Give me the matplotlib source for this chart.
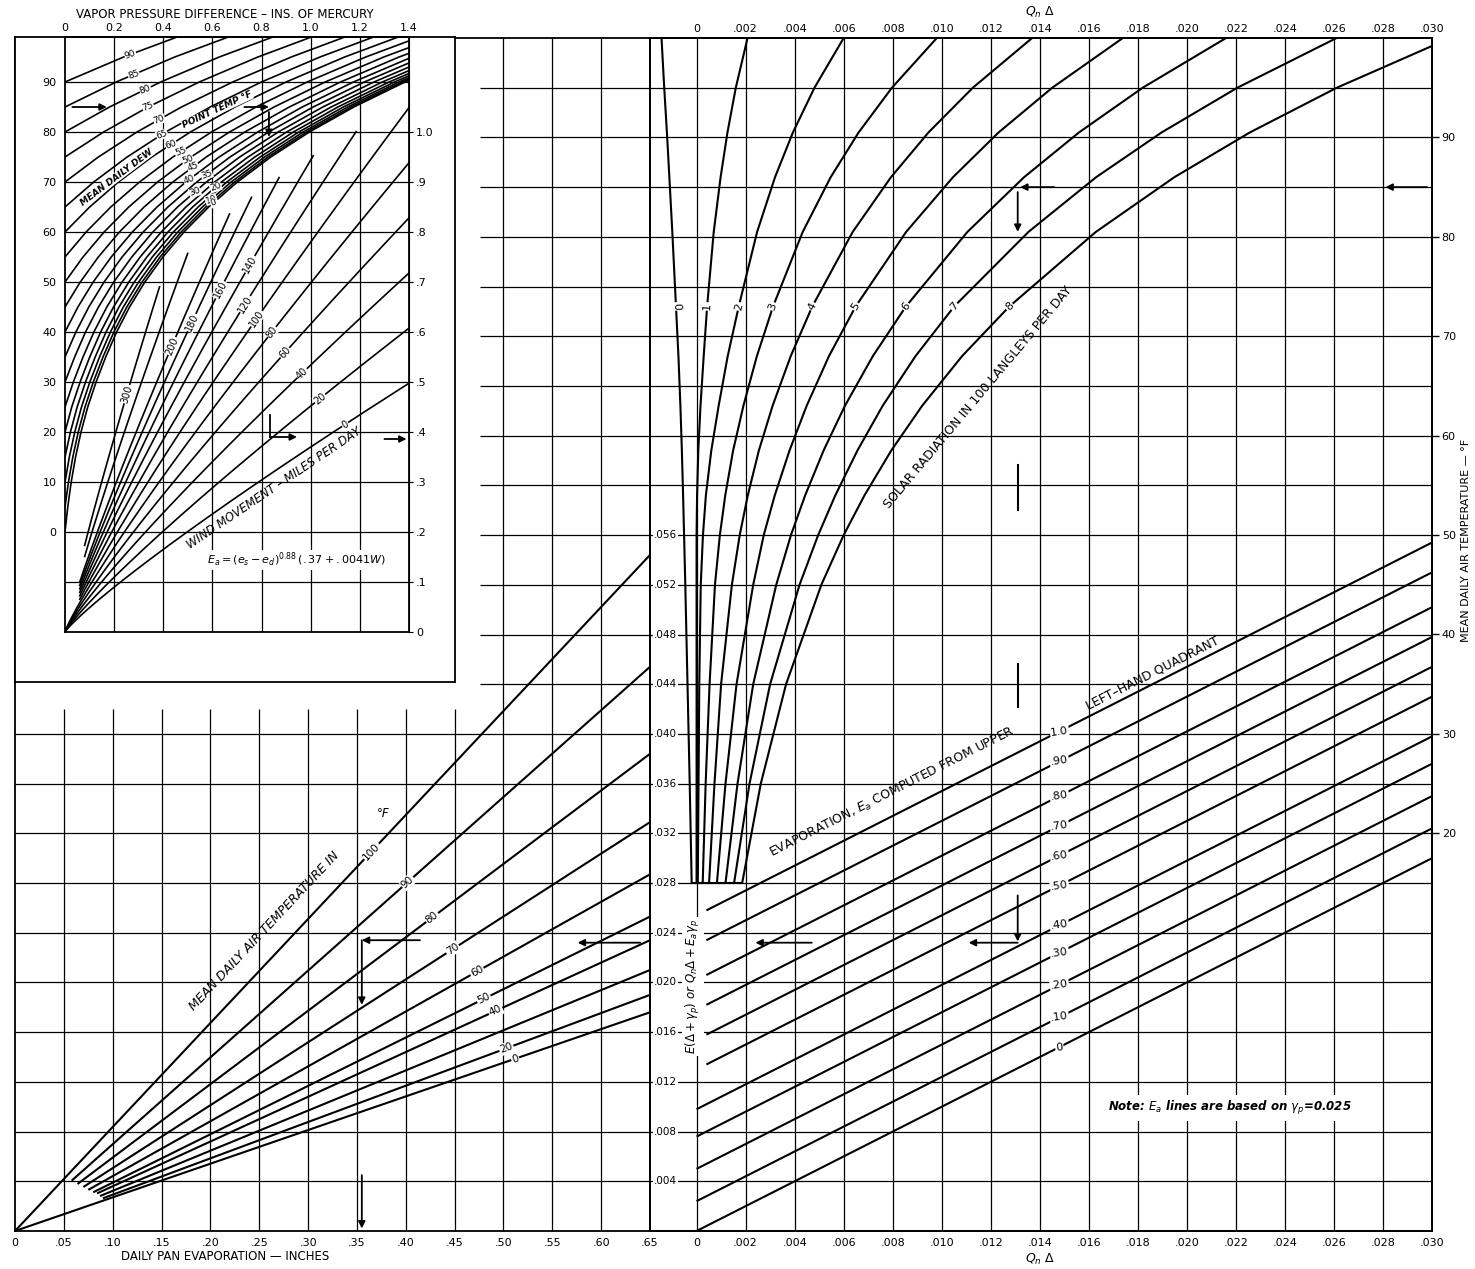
# Evaporation nomograph: pan evaporation, Ea and Qn-delta quadrants
import numpy as np
import matplotlib.pyplot as plt

plt.rcParams['font.family'] = ['DejaVu Sans']
plt.rcParams['font.size'] = 8
plt.rcParams['mathtext.fontset'] = 'dejavusans'

# ---------------- data ----------------
# saturation vapour pressure table (in. Hg) behind the dew point curves
es_temp = np.arange(-20, 101, 5)
es_inhg = np.array([0.0126, 0.0167, 0.0222, 0.0289, 0.0376, 0.0488, 0.0629, 0.0806,
                    0.1027, 0.1301, 0.1641, 0.2034, 0.2477, 0.3003, 0.3626, 0.4359,
                    0.5218, 0.6222, 0.7392, 0.8750, 1.0321, 1.2133, 1.4215, 1.6600, 1.9325])

dew_points = [90, 85, 80, 75, 70, 65, 60, 55, 50, 45, 40, 35, 30, 25, 20, 15, 10, 5, 0]
dew_label_temp = {90: 95.5, 85: 91.5, 80: 88.5, 75: 85, 70: 82.5, 65: 79.5, 60: 77.5,
                  55: 76, 50: 74.5, 45: 73, 40: 70.5, 35: 71.5, 30: 68, 20: 69,
                  10: 66.5, 0: 65.8}

# wind movement lines, Ea = (es-ed)^0.88 (.37 + .0041 W)
wind_speeds = [0, 20, 40, 60, 80, 100, 120, 140, 160, 180, 200, 250, 300]
wind_start = [0, 0, 0, 0, 0, 0.06, 0.06, 0.06, 0.06, 0.06, 0.06, 0.08, 0.08]
wind_label_x = {0: 1.14, 20: 1.038, 40: 0.965, 60: 0.895, 80: 0.842, 100: 0.78,
                120: 0.733, 140: 0.753, 160: 0.631, 180: 0.516, 200: 0.435, 300: 0.252}

# lower-left: mean daily air temperature lines, E(D+gp) at pan evaporation .65
pan_temps = [100, 90, 80, 70, 60, 50, 40, 30, 20, 0]
pan_end_e = [0.0544, 0.0454, 0.0384, 0.0329, 0.0287, 0.0253, 0.0234, 0.0210, 0.0190, 0.0176]
pan_start = [0, 0.058, 0.064, 0.070, 0.075, 0.080, 0.084, 0.087, 0.090, 0]
pan_label_x = [0.365, 0.402, 0.427, 0.448, 0.473, 0.480, 0.492, None, 0.503, 0.512]

# lower-right: Ea lines, E(D+gp) at QnD = 0
ea_values = ['0', '.10', '.20', '.30', '.40', '.50', '.60', '.70', '.80', '.90', '1.0']
ea_intercept = [0, 0.0024, 0.0050, 0.0076, 0.0098, 0.0130, 0.0154, 0.0178, 0.0202, 0.0230, 0.0254]
ea_start = [0, 0, 0, 0, 0, 0.0004, 0.0004, 0.0004, 0.0004, 0.0004, 0.0004]

# upper-right: solar radiation curves, QnD (thousandths) at each mean air temperature
solar_temp = [15, 25, 35, 45, 50, 54, 58.5, 63, 68, 73, 80.5, 86, 90.5, 95, 100]
solar_q = {
    0: [-.20, -.28, -.37, -.46, -.51, -.55, -.60, -.66, -.74, -.84, -.99, -1.11, -1.21, -1.32, -1.43],
    1: [0, 0, 0, 0, 0, .02, .07, .16, .29, .43, .70, .98, 1.26, 1.60, 2.08],
    2: [.05, .08, .11, .17, .26, .38, .60, .90, 1.27, 1.72, 2.47, 3.20, 3.93, 4.81, 6.00],
    3: [.25, .37, .53, .75, .95, 1.17, 1.49, 1.91, 2.46, 3.12, 4.33, 5.47, 6.61, 7.97, 9.80],
    4: [.51, .73, 1.00, 1.44, 1.76, 2.09, 2.54, 3.10, 3.84, 4.72, 6.37, 7.93, 9.46, 11.27, 13.69],
    5: [.83, 1.18, 1.63, 2.31, 2.74, 3.19, 3.79, 4.49, 5.40, 6.49, 8.55, 10.46, 12.32, 14.51, 17.39],
    6: [1.18, 1.67, 2.31, 3.25, 3.85, 4.43, 5.18, 6.05, 7.19, 8.54, 11.05, 13.36, 15.60, 18.20, 21.60],
    7: [1.53, 2.16, 3.00, 4.20, 4.96, 5.66, 6.56, 7.59, 8.93, 10.51, 13.54, 16.30, 18.97, 22.06, 26.11],
    8: [1.86, 2.62, 3.65, 5.09, 6.00, 6.85, 7.94, 9.20, 10.83, 12.76, 16.29, 19.49, 22.57, 26.12, 30.74],
}

pan_ticks = np.round(np.arange(0, 0.651, 0.05), 2)
q_ticks = np.round(np.arange(0, 0.0301, 0.002), 3)
e_ticks = np.round(np.arange(0.004, 0.0561, 0.004), 3)
vp_ticks = np.round(np.arange(0, 1.41, 0.2), 1)

# ---------------- layout ----------------
W_PX, H_PX = 1475, 1269
fig = plt.figure(figsize=(W_PX / 100, H_PX / 100), dpi=100)


def rect(x0, y0, x1, y1):
    return [x0 / W_PX, 1 - y1 / H_PX, (x1 - x0) / W_PX, (y1 - y0) / H_PX]


def angle(ax, x0, y0, x1, y1):
    (a, b), (c, d) = ax.transData.transform([(x0, y0), (x1, y1)])
    ang = np.degrees(np.arctan2(d - b, c - a))
    if ang > 90:
        ang -= 180
    if ang < -90:
        ang += 180
    return ang


GRID = dict(color='black', lw=0.9, zorder=1)
CURVE = dict(color='black', lw=1.5, zorder=3, solid_capstyle='butt')
WHITE = dict(fc='white', ec='none', pad=0.6)
ARROW = dict(arrowstyle='-|>', color='black', lw=1.3, mutation_scale=10, shrinkA=0, shrinkB=0)

ax_p = fig.add_axes(rect(15, 38, 650, 1231))
ax_p.set_xlim(0, 0.65)
ax_p.set_ylim(0, 0.096)
ax_r = fig.add_axes(rect(650, 38, 1432, 1231))
ax_r.set_xlim(-0.0019, 0.030)
ax_r.set_ylim(0, 0.096)
ax_t = ax_r.twinx()
ax_t.set_ylim(-20, 100)
ax_box = fig.add_axes(rect(15, 37, 455, 682), zorder=4)
ax_i = fig.add_axes(rect(65, 37, 409, 632), zorder=5)
ax_i.set_xlim(0, 1.4)
ax_i.set_ylim(-20, 99)

for a in (ax_p, ax_r, ax_t, ax_box, ax_i):
    for s in a.spines.values():
        s.set_linewidth(1.3)
ax_box.set_xticks([])
ax_box.set_yticks([])
ax_i.set_facecolor('none')

# ---------------- lower-left quadrant ----------------
for v in pan_ticks[1:-1]:
    ax_p.vlines(v, 0, 0.096 if v >= 0.5 else 0.042, **GRID)
for e in np.round(np.arange(0.004, 0.0925, 0.004), 3):
    ax_p.hlines(e, 0 if e <= 0.0405 else 0.476, 0.65, **GRID)

for t, e_end, x0, lx in zip(pan_temps, pan_end_e, pan_start, pan_label_x):
    slope = e_end / 0.65
    ax_p.plot([x0, 0.65], [slope * x0, e_end], **CURVE)
    if lx is not None:
        ax_p.text(lx, slope * lx, str(t), ha='center', va='center', fontsize=7.5,
                  rotation=angle(ax_p, 0, 0, 0.65, e_end), bbox=WHITE, zorder=4)

ax_p.text(0.255, pan_end_e[0] / 0.65 * 0.255 + 0.0028, 'MEAN DAILY AIR TEMPERATURE IN',
          ha='center', va='center', fontsize=9, style='italic',
          rotation=angle(ax_p, 0, 0, 0.65, pan_end_e[0]), zorder=4)
ax_p.text(0.377, 0.0336, '°F', ha='center', va='center', fontsize=8.5, style='italic')

ax_p.set_xticks(pan_ticks, ['0'] + [f'{v:.2f}'[1:] for v in pan_ticks[1:]])
ax_p.set_yticks([])
ax_p.tick_params(axis='x', length=0, pad=5, labelsize=8)

for start, end in [((0.640, 0.0232), (0.576, 0.0232)), ((0.4145, 0.0234), (0.355, 0.0234)),
                   ((0.355, 0.0234), (0.355, 0.0182)), ((0.355, 0.0045), (0.355, 0.0002))]:
    ax_p.annotate('', xy=end, xytext=start, arrowprops=ARROW, zorder=5)

# ---------------- right half: grid, Ea lines, solar curves ----------------
for q in q_ticks:
    ax_r.vlines(q, 0, 0.096, **GRID)
for e in np.round(np.arange(0.004, 0.0925, 0.004), 3):
    ax_r.hlines(e, -0.0019, 0.030, **GRID)
for e in e_ticks:
    ax_r.text(-0.00175, e, f'{e:.3f}'[1:], ha='left', va='center', fontsize=7.5,
              bbox=WHITE, zorder=4)

for lab, b, x0 in zip(ea_values, ea_intercept, ea_start):
    ax_r.plot([x0, 0.030], [b + x0, b + 0.030], **CURVE)
    ax_r.text(0.0148, b + 0.0148, lab, ha='center', va='center', fontsize=8,
              rotation=8, bbox=WHITE, zorder=4)

ang_ea = angle(ax_r, 0, 0, 0.03, 0.03)
ax_r.text(0.00800, 0.0353, 'EVAPORATION, $E_a$ COMPUTED FROM UPPER', ha='center', va='center',
          fontsize=9, rotation=ang_ea, zorder=4)
ax_r.text(0.0186, 0.0449, 'LEFT\u2013HAND QUADRANT', ha='center', va='center',
          fontsize=9, rotation=ang_ea, zorder=4)
ax_r.text(0.02176, 0.0099, r'Note: $E_a$ lines are based on $\gamma_p$=0.025', ha='center',
          va='center', fontsize=8.5, style='italic', weight='bold',
          bbox=dict(fc='white', ec='none', pad=3), zorder=4)
ax_r.text(-0.00015, 0.0197, r'$E(\Delta+\gamma_p)$ or $Q_n\Delta+E_a\gamma_p$', rotation=90,
          ha='center', va='center', fontsize=8.5, style='italic',
          bbox=dict(fc='white', ec='none', pad=1.5), zorder=4)

i_lab = solar_temp.index(73)
for lev, q_thou in solar_q.items():
    q = np.array(q_thou) / 1000
    ax_t.plot(q, solar_temp, **CURVE)
    ax_t.text(q[i_lab], solar_temp[i_lab], str(lev), ha='center', va='center', fontsize=8,
              rotation=angle(ax_t, q[i_lab - 1], solar_temp[i_lab - 1],
                             q[i_lab + 1], solar_temp[i_lab + 1]),
              bbox=WHITE, zorder=4)
ax_t.hlines(solar_temp[0], solar_q[0][0] / 1000, solar_q[8][0] / 1000,
            color='black', lw=1.5, zorder=3)
ax_t.text(0.01150, 63.8, 'SOLAR RADIATION IN 100 LANGLEYS PER DAY', ha='center', va='center',
          fontsize=9, rotation=50, zorder=4)

for start, end in [((0.0298, 85), (0.0281, 85)), ((0.0146, 85), (0.0132, 85)),
                   ((0.0131, 84.5), (0.0131, 80.5))]:
    ax_t.annotate('', xy=end, xytext=start, arrowprops=ARROW, zorder=5)
for t0, t1 in [(57, 52.5), (37, 32.7)]:
    ax_t.plot([0.0131, 0.0131], [t0, t1], color='black', lw=1.5)
for start, end in [((0.0131, 0.0270), (0.0131, 0.0233)), ((0.0131, 0.0232), (0.0111, 0.0232)),
                   ((0.0047, 0.0232), (0.0024, 0.0232))]:
    ax_r.annotate('', xy=end, xytext=start, arrowprops=ARROW, zorder=5)

ax_r.set_xticks(q_ticks, ['0'] + [f'{v:.3f}'[1:] for v in q_ticks[1:]])
ax_r.set_yticks([])
ax_r.tick_params(axis='x', length=0, pad=5, labelsize=8)
top = ax_r.secondary_xaxis('top')
top.set_xticks(q_ticks, ['0'] + [f'{v:.3f}'[1:] for v in q_ticks[1:]])
top.tick_params(length=0, pad=3, labelsize=8)
for s in top.spines.values():
    s.set_visible(False)
ax_t.set_yticks(range(20, 91, 10))
ax_t.tick_params(axis='y', length=5, width=1, pad=2, labelsize=8)

# ---------------- upper-left inset ----------------
for v in vp_ticks[1:-1]:
    ax_i.vlines(v, -20, 99, **GRID)
for t in range(-10, 91, 10):
    ax_i.hlines(t, 0, 1.4, **GRID)

es0 = dict(zip(es_temp.tolist(), es_inhg.tolist()))
for td in dew_points:
    m = es_temp >= td
    ax_i.plot(es_inhg[m] - es0[td], es_temp[m], color='black', lw=1.2, zorder=3)
    if td in dew_label_temp:
        tl = dew_label_temp[td]
        xl = np.interp(tl, es_temp, es_inhg) - es0[td]
        ax_i.text(xl, tl, str(td), ha='center', va='center', fontsize=6.5, rotation=20,
                  bbox=dict(fc='white', ec='none', pad=0.2), zorder=4)

td0_curve_x = es_inhg - es0[0]
for w, x0 in zip(wind_speeds, wind_start):
    xs = np.linspace(x0, 1.4, 300)
    ts = 100 * xs ** 0.88 * (0.37 + 0.0041 * w) - 20
    limit = np.interp(xs, td0_curve_x, es_temp) - 5
    over = np.nonzero(ts > limit)[0]
    n = over[0] if len(over) else len(xs)
    ax_i.plot(xs[:n], ts[:n], color='black', lw=1.2, zorder=3)
    if w in wind_label_x:
        xl = wind_label_x[w]
        tl = 100 * xl ** 0.88 * (0.37 + 0.0041 * w) - 20
        tl2 = 100 * (xl + 0.01) ** 0.88 * (0.37 + 0.0041 * w) - 20
        ax_i.text(xl, tl, str(w), ha='center', va='center', fontsize=7,
                  rotation=angle(ax_i, xl, tl, xl + 0.01, tl2),
                  bbox=dict(fc='white', ec='none', pad=0.3), zorder=4)

ax_i.text(0.85, 8.8, 'WIND MOVEMENT \u2013 MILES PER DAY', ha='center', va='center', fontsize=8.5,
          rotation=34, style='italic', zorder=4)
ax_i.text(0.944, -5.6, r'$E_a = (e_s - e_d)^{0.88}\,(.37 + .0041W)$', ha='center', va='center',
          fontsize=8, zorder=4, bbox=dict(fc='white', ec='none', pad=1))
ax_i.text(0.21, 71, 'MEAN DAILY DEW', ha='center', va='center', fontsize=6.5, style='italic',
          weight='bold', rotation=37, zorder=4, bbox=dict(fc='white', ec='none', pad=0.2))
ax_i.text(0.62, 84.4, 'POINT TEMP °F', ha='center', va='center', fontsize=6.5, style='italic',
          weight='bold', rotation=25, zorder=4, bbox=dict(fc='white', ec='none', pad=0.2))

for start, end in [((0.03, 85), (0.17, 85)), ((0.73, 85), (0.83, 85)), ((0.83, 84), (0.83, 79)),
                   ((0.834, 19), (0.944, 19)), ((1.30, 18.6), (1.39, 18.6))]:
    ax_i.annotate('', xy=end, xytext=start, arrowprops=ARROW, zorder=5)
ax_i.plot([0.834, 0.834], [23.5, 19], color='black', lw=1.3, zorder=5)

ax_i.xaxis.tick_top()
ax_i.set_xticks(vp_ticks, ['0'] + [f'{v:.1f}' for v in vp_ticks[1:]])
ax_i.set_yticks(range(0, 91, 10))
ax_i.tick_params(axis='both', length=0, labelsize=8)
ax_i.tick_params(axis='x', pad=3)
ax_i.tick_params(axis='y', pad=6)
sec_e = ax_i.secondary_yaxis('right', functions=(lambda t: (t + 20) / 100, lambda e: 100 * e - 20))
sec_e.set_yticks(np.round(np.arange(0, 1.01, 0.1), 1),
                 ['0', '.1', '.2', '.3', '.4', '.5', '.6', '.7', '.8', '.9', '1.0'])
sec_e.tick_params(length=3, pad=2, labelsize=8)

# ---------------- axis titles ----------------
fig.text(225 / W_PX, 1 - 14 / H_PX, 'VAPOR PRESSURE DIFFERENCE \u2013 INS. OF MERCURY',
         ha='center', va='center', fontsize=8.5)
fig.text(35 / W_PX, 1 - 300 / H_PX, 'MEAN DAILY AIR TEMPERATURE \u2013 °F.', rotation=90,
         ha='center', va='center', fontsize=8.5)
fig.text(435 / W_PX, 1 - 335 / H_PX, 'EVAPORATION $E_a$ \u2013 INCHES', rotation=90,
         ha='center', va='center', fontsize=8.5)
fig.text(225 / W_PX, 1 - 1257 / H_PX, 'DAILY PAN EVAPORATION \u2014 INCHES',
         ha='center', va='center', fontsize=8.5)
fig.text(1040 / W_PX, 1 - 1259 / H_PX, r'$Q_n\ \Delta$', ha='center', va='center', fontsize=9)
fig.text(1040 / W_PX, 1 - 12 / H_PX, r'$Q_n\ \Delta$', ha='center', va='center', fontsize=9)
fig.text(1466 / W_PX, 1 - 540 / H_PX, 'MEAN DAILY AIR TEMPERATURE \u2014 °F', rotation=90,
         ha='center', va='center', fontsize=8)

fig.savefig('out.png', dpi=100, facecolor='white')
